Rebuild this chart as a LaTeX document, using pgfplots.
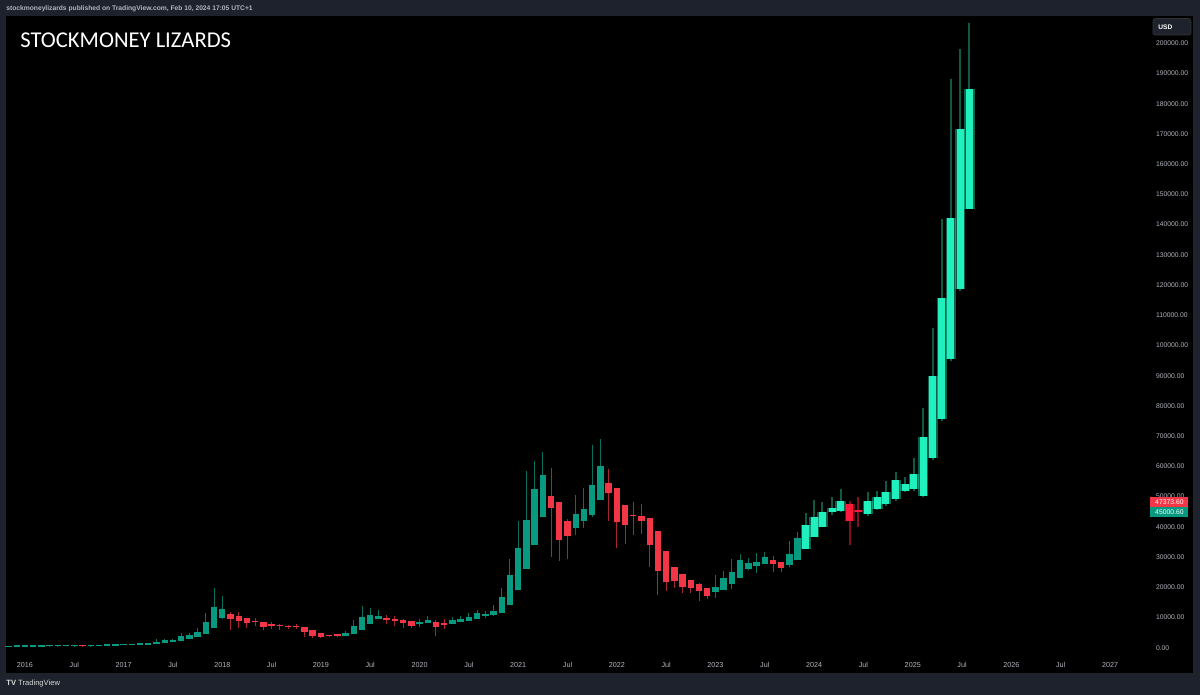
\documentclass[border=0pt]{standalone}
\usepackage{pgfplots}
\pgfplotsset{compat=1.18}
\usepackage{pgfplotstable}
\usepackage{fontspec}
\setmainfont{Liberation Sans}
\newfontfamily\titlefont{Carlito}

\definecolor{bgout}{HTML}{1E222D}
\definecolor{ticktxt}{HTML}{B2B5BE}
\definecolor{upc}{HTML}{089981}
\definecolor{upw}{HTML}{0A6F5E}
\definecolor{dnc}{HTML}{F23645}
\definecolor{dnw}{HTML}{A82632}
\definecolor{brc}{HTML}{1FF0BE}
\definecolor{brw}{HTML}{0E5A47}
\definecolor{brr}{HTML}{FF1A3C}
\definecolor{brrw}{HTML}{7E1020}

% Heikin Ashi monthly candles, m = months since Jan 2016
\pgfplotstableread{
m o h l c
-2 258 495 258 372
-1 315 465 315 406
0 360 462 350 403
1 382 448 365 405
2 393 440 393 422
3 408 467 408 436
4 422 548 422 491
5 456 780 456 628
6 542 704 542 650
8 585 630 570 596
9 590 730 590 661
10 626 755 626 720
11 673 975 673 857
12 765 1153 752 960
13 862 1210 862 1072
14 967 1290 890 1113
15 1040 1350 1040 1210
16 1125 2790 1125 1945
17 1535 3000 1535 2465
18 2000 2930 1830 2529
19 2264 4750 2264 3756
20 3010 5000 2970 4253
21 3631 6470 3631 5345
22 4488 11400 4488 8340
23 6414 19900 6414 13415
24 9915 17250 9400 12690
39 3974 5610 3974 4778
40 4376 9090 4376 7070
41 5723 13880 5723 10180
42 7951 13200 7951 10795
43 9373 12330 9340 10340
48 7955 9570 6850 8240
49 8097 10500 8097 9205
52 7741 10070 7741 9060
53 8401 10380 8401 9450
54 8925 11440 8925 10230
55 9578 12470 9578 11498
56 10538 12050 9880 11090
57 10814 14100 10380 12265
58 11539 19900 11539 16650
59 14095 29300 14095 23890
60 18992 41950 18992 33045
61 26019 58350 26019 42245
62 34132 61780 34132 52668
63 43400 64900 43400 57115
67 39485 50500 37330 44098
68 41791 52920 39600 45860
69 43826 67000 43300 53855
70 48840 69000 48840 60138
84 18468 23950 16500 20030
85 19249 25250 19249 23220
86 21235 29200 19550 25095
87 23165 31000 23165 28923
88 26044 29840 25800 28033
89 27038 31400 24800 28473
90 27755 31800 27755 30090
93 27302 35200 26540 30843
94 29072 38420 29072 36225
}\upT

\pgfplotstableread{
m o h l c
7 596 627 470 574
25 11302 11800 6000 9588
26 10445 11700 6600 8883
27 9664 9770 6430 8093
28 8878 9990 7060 8445
29 8662 8662 5760 6853
30 7757 8500 6070 7173
31 7465 7750 5880 7100
32 7282 7410 6100 6793
33 7038 7680 6200 6705
34 6871 6871 3650 5150
35 6011 6011 3120 3785
36 4898 4898 3350 3655
37 4277 4277 3380 3723
38 4000 4140 3690 3948
44 9857 10950 7730 9143
45 9500 10540 7300 8833
46 9166 9500 6520 8193
47 8679 8679 6430 7230
50 8651 9190 3850 6993
51 7822 9460 6150 7660
64 50257 59600 30000 46155
65 48206 48206 28800 35618
66 41912 42450 29280 37058
71 54489 59100 42000 51100
72 52795 52795 32950 41430
73 47112 47112 34320 40448
74 43780 48200 37150 43520
75 43650 47460 37640 42085
76 42868 42868 26700 34035
77 38451 38451 17600 25330
78 31891 31891 18780 21673
79 26782 26782 19600 22038
80 24410 24410 18150 20108
81 22259 22259 18190 19800
82 21029 21460 15480 18653
83 19841 19841 16270 17095
91 28923 30200 25170 27635
92 28279 28279 24900 26325
}\dnT

% highlighted bars (last real months + projection)
\pgfplotstableread{
m o h l c
95 32649 44700 32649 40575
96 36612 48970 36612 43083
97 39847 48200 39847 45008
98.21 44800 49900 44000 46260
99.23 45360 52550 45000 48670
102.52 44270 51550 43500 48670
103.69 45920 51750 45500 49770
104.74 47580 55290 47000 51420
105.96 49230 58170 48500 55390
107.06 51980 56520 51500 54200
108.15 52550 62810 52000 57510
109.28 50240 79360 50000 69830
110.43 62900 105850 62000 90060
111.53 75720 141710 75000 115780
112.65 95600 188070 95000 142270
113.75 118770 198000 118000 171750
114.88 145220 206840 145000 184770
}\brT

\pgfplotstableread{
m o h l c
100.36 47680 48440 34100 41820
101.37 45300 49770 39960 45000
}\brdT

\newcommand{\wicks}[3]{%
  \addplot[draw=none, no markers, forget plot,
    error bars/.cd, y dir=plus, y explicit, error mark=none,
    error bar style={line width=#3, draw=#2, solid}]
    table[x=m, y=l, y error expr=\thisrow{h}-\thisrow{l}] {#1};}
\newcommand{\bodies}[4]{%
  \addplot[draw=none, no markers, forget plot,
    error bars/.cd, y dir=plus, y explicit, error mark=none,
    error bar style={line width=#3, draw=#2, solid, line cap=butt, draw opacity=#4}]
    table[x=m, y expr={min(\thisrow{o},\thisrow{c})},
      y error expr={max(abs(\thisrow{c}-\thisrow{o}),450)}] {#1};}

\begin{document}
\begin{tikzpicture}
\fill[bgout] (0pt,0pt) rectangle (600pt,347.5pt);
\fill[black] (3pt,11.2pt) rectangle (596.5pt,339.5pt);
\node[anchor=base west, inner sep=0pt, text=ticktxt, font=\fontsize{3.35}{4}\selectfont\bfseries]
  at (3pt,342pt) {stockmoneylizards published on TradingView.com, Feb 10, 2024 17:05 UTC+1};
\begin{axis}[
    at={(3pt,19pt)}, anchor=south west,
    scale only axis, width=571pt, height=320.5pt,
    xmin=-2.311, xmax=136.62, ymin=-3077, ymax=209030,
    axis line style={draw=none}, major tick length=0pt,
    clip=false, scaled y ticks=false,
    xtick={0,6,...,132},
    xticklabels={2016,Jul,2017,Jul,2018,Jul,2019,Jul,2020,Jul,2021,Jul,2022,Jul,2023,Jul,2024,Jul,2025,Jul,2026,Jul,2027},
    xticklabel style={font=\fontsize{3.6}{4}\selectfont, text=ticktxt, anchor=center, inner sep=0pt, yshift=-4pt},
    ytick={0,10000,20000,30000,40000,50000,60000,70000,80000,90000,100000,110000,120000,130000,140000,150000,160000,170000,180000,190000,200000},
    yticklabels={0.00,10000.00,20000.00,30000.00,40000.00,50000.00,60000.00,70000.00,80000.00,90000.00,100000.00,110000.00,120000.00,130000.00,140000.00,150000.00,160000.00,170000.00,180000.00,190000.00,200000.00},
    yticklabel pos=right,
    yticklabel style={font=\fontsize{3.4}{4}\selectfont, text=ticktxt, anchor=west, inner sep=0pt, xshift=3.8pt},
  ]
  \wicks{\upT}{upw}{0.5pt}
  \bodies{\upT}{upc}{3.2pt}{1}
  \wicks{\dnT}{dnw}{0.5pt}
  \bodies{\dnT}{dnc}{3.2pt}{1}
  \wicks{\brT}{brw}{0.9pt}
  \bodies{\brT}{brc}{5.2pt}{0.4}
  \bodies{\brT}{brc}{3.5pt}{1}
  \wicks{\brdT}{brrw}{0.9pt}
  \bodies{\brdT}{brr}{5.2pt}{0.4}
  \bodies{\brdT}{brr}{3.5pt}{1}
  \coordinate (redtag) at (axis cs:136.62,48200);
  \coordinate (greentag) at (axis cs:136.62,45000);
\end{axis}
\node[anchor=west, xshift=1pt, fill=dnc, text=white, inner sep=0pt, minimum width=19pt, minimum height=5.3pt,
  font=\fontsize{3.4}{4}\selectfont] at (redtag) {47373.60};
\node[anchor=west, xshift=1pt, fill=upc, text=white, inner sep=0pt, minimum width=19pt, minimum height=5.0pt,
  font=\fontsize{3.4}{4}\selectfont] at (greentag) {45000.60};
\node[anchor=base west, inner sep=0pt, text=white, font=\titlefont\fontsize{11.3}{13}\selectfont]
  at (10pt,323.6pt) {STOCKMONEY LIZARDS};
\draw[rounded corners=1.2pt, fill=bgout, draw=black!80!white] (576.5pt,330pt) rectangle (595.5pt,338.2pt);
\node[anchor=west, inner sep=0pt, text=white, font=\fontsize{3.3}{4}\selectfont\bfseries] at (579pt,334.1pt) {USD};
\node[anchor=west, inner sep=0pt, text=white!85!black, font=\fontsize{3.8}{4}\selectfont] at (3pt,5.5pt)
  {\textbf{TV}\ TradingView};
\end{tikzpicture}
\end{document}
